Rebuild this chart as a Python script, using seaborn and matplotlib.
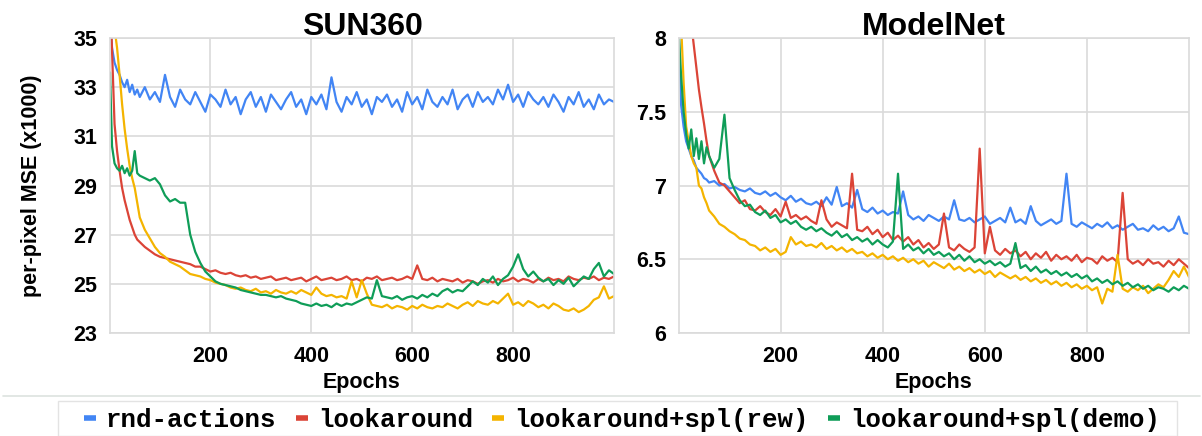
import matplotlib
matplotlib.use("Agg")
import matplotlib.pyplot as plt
import seaborn as sns
from matplotlib.lines import Line2D
from matplotlib.patches import Rectangle

# epochs sampled densely at the start, then every 10
epochs = [1, 5, 10, 15, 20, 25, 30, 35, 40, 45, 50, 55] + list(range(60, 1001, 10))

names = ["rnd-actions", "lookaround", "lookaround+spl(rew)", "lookaround+spl(demo)"]
colors = ["#4285F4", "#DB4437", "#F4B400", "#0F9D58"]

# ---- SUN360 ----
sun_rnd = [35.8, 34.6, 34.0, 33.7, 33.5, 33.2, 33.0, 33.3, 32.8, 33.1, 32.7, 32.9,
           32.6, 33.0, 32.5, 32.8, 32.4, 33.5, 32.6, 32.2, 32.9, 32.5,
           32.3, 32.8, 32.4, 32.0, 32.7, 32.5, 32.2, 32.9, 32.3, 32.6,
           31.9, 32.5, 32.8, 32.2, 32.6, 32.0, 32.7, 32.4, 32.1, 32.5,
           32.8, 32.2, 32.5, 31.9, 32.6, 32.3, 32.7, 32.1, 33.4, 32.4,
           32.0, 32.6, 32.3, 32.8, 32.2, 32.5, 31.9, 32.6, 32.4, 32.7,
           32.2, 32.5, 32.0, 32.8, 32.3, 32.6, 32.1, 32.9, 32.4, 32.2,
           32.6, 32.3, 32.9, 32.1, 32.5, 32.7, 32.2, 32.8, 32.4, 32.6,
           32.3, 32.9, 32.5, 33.1, 32.4, 32.7, 32.2, 32.8, 32.5, 32.3,
           32.6, 32.2, 32.7, 32.4, 32.0, 32.6, 32.3, 32.8, 32.2, 32.5,
           32.1, 32.7, 32.3, 32.5, 32.4]
sun_look = [37.0, 34.5, 31.5, 30.4, 29.6, 28.9, 28.4, 28.0, 27.6, 27.3, 27.0, 26.8,
            26.7, 26.5, 26.35, 26.2, 26.1, 26.05, 26.0, 25.95, 25.9, 25.85,
            25.8, 25.7, 25.7, 25.6, 25.5, 25.55, 25.45, 25.4, 25.45, 25.35,
            25.3, 25.35, 25.25, 25.3, 25.2, 25.25, 25.3, 25.15, 25.2, 25.25,
            25.15, 25.2, 25.25, 25.1, 25.2, 25.3, 25.15, 25.2, 25.25, 25.15,
            25.2, 25.3, 25.15, 25.2, 25.1, 25.25, 25.2, 25.3, 25.15, 25.2,
            25.25, 25.15, 25.2, 25.3, 25.2, 25.75, 25.2, 25.15, 25.25, 25.1,
            25.2, 25.15, 25.1, 25.2, 25.05, 25.15, 25.1, 25.0, 25.1, 25.15,
            25.05, 25.2, 25.1, 25.15, 25.25, 25.1, 25.2, 25.15, 25.05, 25.2,
            25.1, 25.25, 25.15, 25.2, 25.1, 25.3, 25.2, 25.15, 25.25, 25.2,
            25.3, 25.15, 25.25, 25.2, 25.3]
sun_rew = [38.0, 36.5, 35.4, 34.6, 33.5, 32.3, 31.3, 30.5, 29.8, 29.3, 28.9, 28.3,
           27.7, 27.2, 26.85, 26.5, 26.25, 26.1, 25.9, 25.8, 25.7, 25.55,
           25.4, 25.35, 25.3, 25.2, 25.15, 25.05, 25.0, 24.95, 24.85, 24.8,
           24.85, 24.75, 24.7, 24.8, 24.65, 24.7, 24.6, 24.75, 24.65, 24.6,
           24.7, 24.6, 24.75, 24.65, 24.55, 24.85, 24.6, 24.5, 24.55, 24.45,
           24.5, 24.4, 25.1, 24.45, 25.15, 24.6, 24.15, 24.1, 24.05, 24.15,
           24.0, 24.1, 24.05, 23.95, 24.1, 24.0, 24.15, 24.05, 24.0, 24.1,
           24.05, 24.2, 24.1, 24.0, 24.15, 24.25, 24.1, 24.3, 24.2, 24.15,
           24.3, 24.2, 24.4, 24.6, 24.15, 24.25, 24.1, 24.3, 24.2, 24.05,
           24.15, 24.0, 24.2, 24.1, 23.95, 23.9, 24.0, 23.85, 23.95, 24.1,
           24.35, 24.45, 24.9, 24.4, 24.5]
sun_demo = [33.6, 30.6, 29.9, 29.7, 29.6, 29.8, 29.5, 29.7, 29.4, 29.6, 30.4, 29.5,
            29.4, 29.3, 29.2, 29.3, 29.05, 28.6, 28.35, 28.45, 28.3, 28.3,
            27.0, 26.3, 25.85, 25.5, 25.3, 25.1, 25.0, 24.95, 24.9, 24.85,
            24.75, 24.7, 24.65, 24.6, 24.55, 24.55, 24.5, 24.45, 24.5, 24.4,
            24.35, 24.3, 24.2, 24.15, 24.1, 24.2, 24.1, 24.15, 24.05, 24.2,
            24.1, 24.2, 24.15, 24.25, 24.35, 24.45, 24.4, 25.15, 24.5, 24.45,
            24.4, 24.5, 24.35, 24.45, 24.5, 24.4, 24.55, 24.45, 24.6, 24.5,
            24.7, 24.8, 24.65, 24.75, 24.7, 24.9, 25.1, 24.95, 25.2, 25.05,
            25.3, 24.95, 25.2, 25.35, 25.7, 26.2, 25.6, 25.3, 25.5, 25.25,
            25.1, 25.2, 24.95, 25.15, 25.0, 25.25, 24.9, 25.1, 25.3, 25.2,
            25.6, 25.85, 25.3, 25.55, 25.4]

# ---- ModelNet ----
mn_rnd = [8.0, 7.55, 7.4, 7.3, 7.25, 7.2, 7.17, 7.12, 7.1, 7.08, 7.05, 7.04,
          7.02, 7.03, 7.0, 7.01, 6.98, 6.99, 6.97, 6.96, 6.98, 6.95,
          6.94, 6.96, 6.93, 6.95, 6.92, 6.9, 6.93, 6.89, 6.91, 6.88,
          6.87, 6.89, 6.86, 6.92, 6.87, 6.99, 6.86, 6.88, 6.85, 6.97,
          6.84, 6.82, 6.85, 6.81, 6.83, 6.80, 6.82, 6.81, 6.96, 6.80,
          6.77, 6.79, 6.76, 6.8, 6.78, 6.76, 6.79, 6.77, 6.9, 6.77,
          6.76, 6.78, 6.75, 6.77, 6.79, 6.74, 6.76, 6.78, 6.75, 6.85,
          6.75, 6.77, 6.74, 6.86, 6.76, 6.73, 6.75, 6.77, 6.74, 6.76,
          7.08, 6.74, 6.72, 6.75, 6.73, 6.71, 6.74, 6.72, 6.75, 6.71,
          6.73, 6.7, 6.72, 6.74, 6.7, 6.71, 6.69, 6.73, 6.7, 6.72,
          6.69, 6.71, 6.79, 6.68, 6.67]
mn_look = [8.6, 8.5, 8.4, 8.3, 8.2, 8.1, 7.95, 7.8, 7.65, 7.53, 7.42, 7.3,
           7.2, 7.1, 7.02, 7.0, 6.96, 6.92, 6.88, 6.9, 6.84, 6.83,
           6.86, 6.82, 6.8, 6.84, 6.79, 6.89, 6.78, 6.8, 6.77, 6.79,
           6.76, 6.74, 6.9, 6.77, 6.72, 6.75, 6.73, 6.71, 7.08, 6.7,
           6.69, 6.72, 6.67, 6.7, 6.65, 6.68, 6.63, 6.66, 6.62, 6.65,
           6.6, 6.63, 6.58, 6.61, 6.57, 6.6, 6.81, 6.58, 6.56, 6.6,
           6.57, 6.55, 6.58, 7.25, 6.54, 6.72, 6.56, 6.53, 6.57, 6.54,
           6.56, 6.52, 6.55, 6.5, 6.54, 6.51, 6.55, 6.49, 6.53, 6.5,
           6.52, 6.49, 6.53, 6.48, 6.51, 6.5, 6.47, 6.52, 6.49, 6.51,
           6.48, 6.95, 6.5, 6.47, 6.49, 6.46, 6.5, 6.47, 6.48, 6.45,
           6.49, 6.46, 6.5, 6.47, 6.44]
mn_rew = [8.6, 8.1, 7.7, 7.4, 7.3, 7.2, 7.15, 7.12, 7.0, 6.98, 6.92, 6.88,
          6.83, 6.79, 6.74, 6.72, 6.69, 6.67, 6.64, 6.63, 6.6, 6.59,
          6.56, 6.58, 6.55, 6.57, 6.53, 6.55, 6.65, 6.6, 6.62, 6.59,
          6.6, 6.58, 6.61, 6.57, 6.59, 6.56, 6.58, 6.55, 6.57, 6.54,
          6.55, 6.52, 6.54, 6.51, 6.53, 6.5, 6.52, 6.49, 6.51, 6.48,
          6.5, 6.47, 6.49, 6.45, 6.48, 6.46, 6.44, 6.47, 6.43, 6.45,
          6.42, 6.44, 6.41, 6.43, 6.4, 6.42, 6.38, 6.41, 6.39, 6.37,
          6.39, 6.36, 6.38, 6.35, 6.37, 6.34, 6.36, 6.33, 6.35, 6.32,
          6.34, 6.31, 6.33, 6.3, 6.32, 6.29, 6.31, 6.2, 6.3, 6.28,
          6.53, 6.3, 6.28, 6.31, 6.29, 6.32, 6.27, 6.3, 6.33, 6.31,
          6.36, 6.42, 6.38, 6.45, 6.38]
mn_demo = [8.0, 7.75, 7.5, 7.35, 7.25, 7.38, 7.2, 7.32, 7.18, 7.3, 7.15, 7.26,
           7.2, 7.12, 7.18, 7.48, 7.05, 6.97, 6.9, 6.86, 6.87, 6.82,
           6.8, 6.83, 6.78, 6.8, 6.75, 6.77, 6.74, 6.76, 6.72, 6.7,
           6.72, 6.69, 6.71, 6.68, 6.66, 6.69, 6.65, 6.67, 6.63, 6.65,
           6.62, 6.64, 6.6, 6.63, 6.6, 6.58, 6.62, 7.08, 6.57, 6.6,
           6.56, 6.58, 6.54, 6.57, 6.53, 6.55, 6.52, 6.54, 6.5, 6.53,
           6.49, 6.52, 6.48, 6.5, 6.47, 6.49, 6.46, 6.48, 6.45, 6.47,
           6.61, 6.44, 6.46, 6.42, 6.45, 6.41, 6.43, 6.4, 6.42, 6.39,
           6.41, 6.38, 6.4, 6.37, 6.39, 6.35, 6.37, 6.34, 6.36, 6.33,
           6.35, 6.32, 6.34, 6.31, 6.33, 6.3, 6.32, 6.29, 6.31, 6.3,
           6.28, 6.31, 6.29, 6.32, 6.3]

sns.set_style("whitegrid")
plt.rcParams["font.family"] = ["Liberation Sans", "DejaVu Sans"]
plt.rcParams["font.weight"] = "bold"
plt.rcParams["text.color"] = "black"
plt.rcParams["axes.labelcolor"] = "black"
plt.rcParams["xtick.color"] = "black"
plt.rcParams["ytick.color"] = "black"

W, H = 1202, 436
fig = plt.figure(figsize=(W / 100, H / 100), dpi=100)


def px_axes(x0, y0, x1, y1):
    return fig.add_axes([x0 / W, 1 - y1 / H, (x1 - x0) / W, (y1 - y0) / H])


def draw_panel(ax, series, title, ylim, yticks, ylabels):
    for vals, name, col in zip(series, names, colors):
        sns.lineplot(x=epochs, y=vals, ax=ax, color=col, linewidth=1.6, label=name, legend=False)
    ax.set_xlim(1, 1000)
    ax.set_ylim(*ylim)
    ax.set_xticks([200, 400, 600, 800])
    ax.set_yticks(yticks)
    ax.set_yticklabels(ylabels)
    ax.tick_params(length=0, labelsize=15.5, pad=9, colors="black")
    for lab in ax.get_xticklabels() + ax.get_yticklabels():
        lab.set_fontweight("bold")
    ax.grid(True, color="#dadada", linewidth=1.2)
    for sp in ax.spines.values():
        sp.set_color("#dadada")
        sp.set_linewidth(1.2)
    ax.set_title(title, fontsize=23, fontweight="bold", pad=2, color="black")
    ax.set_xlabel("Epochs", fontsize=15.5, fontweight="bold", labelpad=4, color="black")


ax1 = px_axes(110, 38, 614, 333)
draw_panel(ax1, [sun_rnd, sun_look, sun_rew, sun_demo], "SUN360", (23, 35),
           [23, 25, 27, 29, 31, 33, 35], ["23", "25", "27", "29", "31", "33", "35"])
ax1.set_ylabel("per-pixel MSE (x1000)", fontsize=15.5, fontweight="bold", color="black")
ax1.yaxis.set_label_coords(-0.135, 0.5)

ax2 = px_axes(679, 38, 1189, 333)
draw_panel(ax2, [mn_rnd, mn_look, mn_rew, mn_demo], "ModelNet", (6, 8),
           [6, 6.5, 7, 7.5, 8], ["6", "6.5", "7", "7.5", "8"])
ax2.set_ylabel("")

# separator and legend box
fig.add_artist(Line2D([3 / W, 1200 / W], [1 - 396 / H, 1 - 396 / H], color="#dde3df", linewidth=1.2))
fig.add_artist(Rectangle((58 / W, 0), (1177 - 58) / W, (436 - 401) / H, fill=False,
                         edgecolor="#e3e3e3", linewidth=1.0))

handles = [Line2D([], [], color=c, linewidth=4, solid_capstyle="butt") for c in colors]
leg = fig.legend(handles, names, loc="center", bbox_to_anchor=(622 / W, 1 - 420 / H), ncol=4,
                 frameon=False, handlelength=0.46, handletextpad=0.4, columnspacing=0.75,
                 prop={"family": "Liberation Mono", "weight": "bold", "size": 18.5})
for t in leg.get_texts():
    t.set_color("black")

fig.savefig("out.png", dpi=100)
